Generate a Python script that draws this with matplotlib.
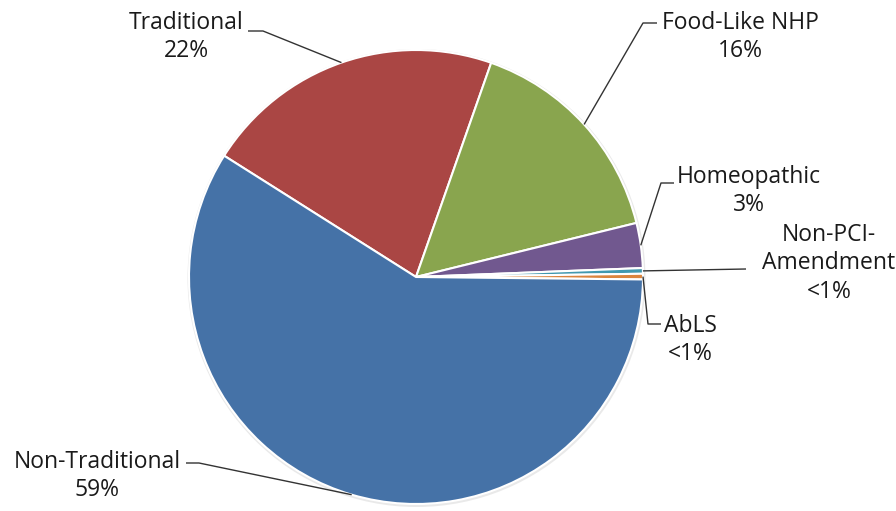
import numpy as np
import matplotlib
matplotlib.use("Agg")
import matplotlib.pyplot as plt
from matplotlib.patches import Circle

categories = ["Traditional", "Food-Like NHP", "Homeopathic", "Non-PCI-\nAmendment", "AbLS", "Non-Traditional"]
values = [21.4, 15.8, 3.2, 0.4, 0.4, 58.8]
pct_labels = ["22%", "16%", "3%", "<1%", "<1%", "59%"]
colors = ["#AA4644", "#89A54E", "#71588F", "#4198AF", "#DB843D", "#4572A7"]

W, H = 896, 511
fig = plt.figure(figsize=(W / 100, H / 100), dpi=100)
ax = fig.add_axes([0, 0, 1, 1])

cx, cy, R = 416, H - 277, 227
# faint shadow / rim
ax.add_patch(Circle((cx + 0.5, cy - 1), R + 2, facecolor="#d4d4d4", edgecolor="none", alpha=0.5, zorder=0))
wedges, _ = ax.pie(values, colors=colors, startangle=147.7, counterclock=False,
                   center=(cx, cy), radius=R, frame=True,
                   wedgeprops=dict(edgecolor="white", linewidth=1.5))
ax.set_xlim(0, W)
ax.set_ylim(0, H)
ax.set_aspect("equal")
ax.axis("off")

font = dict(family="Open Sans", fontsize=16.5, color="#1a1a1a")

label_specs = [
    ((186, 37), "center", [(248, 31), (263, 31)]),
    ((740, 37), "center", [(657, 23), (643, 23)]),
    ((749, 191), "center", [(674, 183), (661, 183)]),
    ((829, 263), "center", [(746, 269)]),
    ((690, 340), "center", [(661, 324), (648, 324)]),
    ((97, 476), "center", [(186, 463), (199, 463)]),
]

for w, cat, pct, (pos, ha, elbow) in zip(wedges, categories, pct_labels, label_specs):
    mid = np.deg2rad((w.theta1 + w.theta2) / 2)
    ex, ey = cx + R * np.cos(mid), cy + R * np.sin(mid)
    xs = [p[0] for p in elbow] + [ex]
    ys = [H - p[1] for p in elbow] + [ey]
    ax.plot(xs, ys, color="#333333", lw=1.0, solid_capstyle="butt")
    ax.text(pos[0], H - pos[1], f"{cat}\n{pct}", ha=ha, va="center",
            linespacing=1.25, **font)

fig.savefig("out.png", dpi=100)
